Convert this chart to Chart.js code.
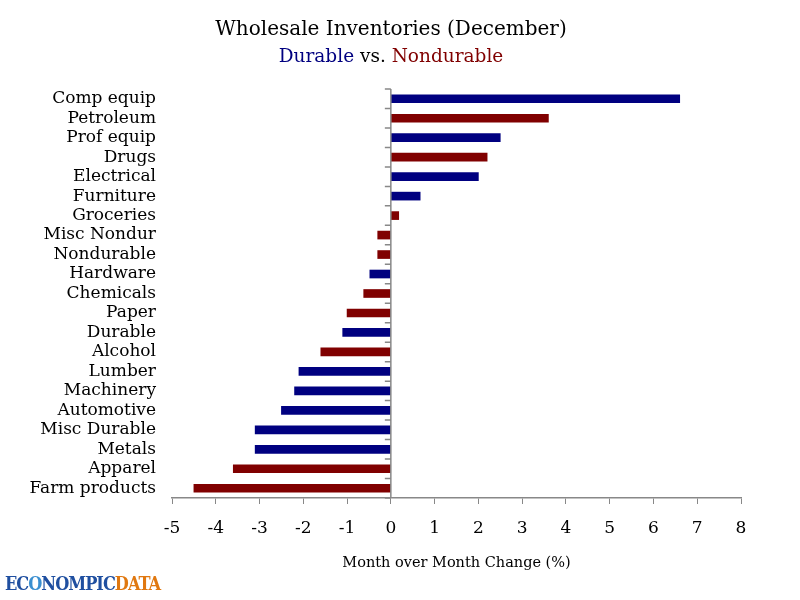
<!DOCTYPE html>
<html>
<head>
<meta charset="utf-8">
<script src="https://cdn.jsdelivr.net/npm/chart.js@4"></script>
<style>
  body { margin: 0; background: #fff; }
  #wrap { position: relative; width: 800px; height: 600px; }
  .t { position: absolute; left: 0; width: 782px; text-align: center; font-family: "DejaVu Serif", serif; }
  #title { top: 16px; font-size: 20px; color: #000; }
  #sub { top: 45px; font-size: 18.5px; color: #000; }
  #logo { position: absolute; left: 5px; top: 573px; font-family: "DejaVu Serif Condensed", "DejaVu Serif", serif; font-weight: bold; font-size: 18px; letter-spacing: -1px; }
</style>
</head>
<body>
<div id="wrap">
  <canvas id="c" width="800" height="600"></canvas>
  <div class="t" id="title">Wholesale Inventories (December)</div>
  <div class="t" id="sub"><span style="color:#000080">Durable</span> vs. <span style="color:#800000">Nondurable</span></div>
  <div id="logo"><span style="color:#1f4fa0">EC</span><span style="color:#3a8fd0">O</span><span style="color:#1f4fa0">NOMPIC</span><span style="color:#e07810">DATA</span></div>
</div>
<script>
// categories top to bottom
var categories = ["Comp equip","Petroleum","Prof equip","Drugs","Electrical","Furniture","Groceries",
  "Misc Nondur","Nondurable","Hardware","Chemicals","Paper","Durable","Alcohol","Lumber","Machinery",
  "Automotive","Misc Durable","Metals","Apparel","Farm products"];
var changes = [6.6,3.6,2.5,2.2,2.0,0.67,0.18,-0.3,-0.3,-0.48,-0.62,-1.0,-1.1,-1.6,-2.1,-2.2,-2.5,-3.1,-3.1,-3.6,-4.5];
// D = durable, N = nondurable
var kinds = ["D","N","D","N","D","D","N","N","N","D","N","N","D","N","D","D","D","D","D","N","N"];
var xTicks = {min: -5, max: 8, step: 1};

var durableColor = "#000080";
var nondurColor = "#800000";

// zero line with little tick marks, like the original
var zeroAxis = {
  id: "zeroAxis",
  afterDatasetsDraw: function(chart){
    var ctx = chart.ctx, xs = chart.scales.x;
    var x0 = xs.getPixelForValue(0);
    var a = chart.chartArea;
    ctx.save();
    ctx.strokeStyle = "#888";
    ctx.lineWidth = 1.5;
    ctx.beginPath();
    ctx.moveTo(x0, a.top);
    ctx.lineTo(x0, a.bottom);
    var step = (a.bottom - a.top) / categories.length;
    for (var i = 0; i <= categories.length; i++) {
      var y = a.top + i * step;
      ctx.moveTo(x0 - 6, y);
      ctx.lineTo(x0, y);
    }
    ctx.stroke();
    ctx.restore();
  }
};

new Chart(document.getElementById("c"), {
  type: "bar",
  data: {
    labels: categories,
    datasets: [{
      data: changes,
      backgroundColor: kinds.map(function(k){ return k == "D" ? durableColor : nondurColor; }),
      barThickness: 8
    }]
  },
  options: {
    indexAxis: "y",
    responsive: false,
    animation: false,
    layout: { padding: { top: 89, right: 59, left: 0, bottom: 0 } },
    plugins: { legend: { display: false }, tooltip: { enabled: false } },
    scales: {
      x: {
        min: xTicks.min, max: xTicks.max,
        ticks: { stepSize: xTicks.step, color: "#000", padding: 14, font: { family: "DejaVu Serif", size: 17 } },
        grid: { drawOnChartArea: false, tickLength: 6, color: "#888" },
        border: { color: "#888", width: 1.5 },
        title: { display: true, text: "Month over Month Change (%)", color: "#000", padding: { top: 14, bottom: 28 },
          font: { family: "DejaVu Serif", size: 14.5 } },
        afterFit: function(s){ s.height = 102; }
      },
      y: {
        ticks: { color: "#000", padding: 8, autoSkip: false, font: { family: "DejaVu Serif", size: 17 } },
        grid: { display: false },
        border: { display: false },
        afterFit: function(s){ s.width = 172; }
      }
    }
  },
  plugins: [zeroAxis]
});
</script>
</body>
</html>
